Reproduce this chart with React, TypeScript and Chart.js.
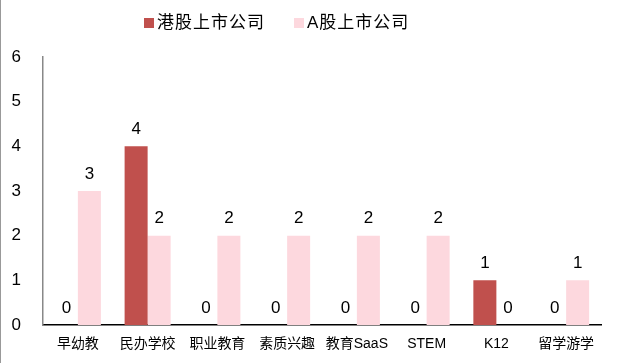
import React, { useEffect, useRef } from "react";
import { Chart, registerables } from "chart.js";

Chart.register(...registerables);

const categories = ["早幼教", "民办学校", "职业教育", "素质兴趣", "教育SaaS", "STEM", "K12", "留学游学"];
const hkListed = [0, 4, 0, 0, 0, 0, 1, 0];
const aListed = [3, 2, 2, 2, 2, 2, 0, 1];
const yTicks = [0, 1, 2, 3, 4, 5, 6];

const HK_COLOR = "#C0504D";
const A_COLOR = "#FDD8DE";

const valueLabels = {
  id: "valueLabels",
  afterDatasetsDraw(chart: any) {
    const ctx = chart.ctx;
    ctx.save();
    ctx.font = '17px "Liberation Sans", Arial, sans-serif';
    ctx.fillStyle = "#000";
    ctx.textAlign = "center";
    ctx.textBaseline = "middle";
    chart.data.datasets.forEach((ds: any, di: number) => {
      const meta = chart.getDatasetMeta(di);
      meta.data.forEach((el: any, i: number) => {
        ctx.fillText(String(ds.data[i]), el.x, el.y - 17);
      });
    });
    ctx.restore();
  },
};

const customLegend = {
  id: "customLegend",
  afterDraw(chart: any) {
    const ctx = chart.ctx;
    ctx.save();
    ctx.font = '17px "Liberation Sans", "Noto Sans CJK SC", sans-serif';
    try {
      (ctx as any).letterSpacing = "1px";
    } catch (e) {}
    ctx.textBaseline = "middle";
    ctx.textAlign = "left";
    const starts = [143, 293];
    chart.data.datasets.forEach((ds: any, di: number) => {
      const x = starts[di];
      const y = 23;
      ctx.fillStyle = ds.backgroundColor;
      ctx.fillRect(x, y - 5, 10, 10);
      ctx.fillStyle = "#000";
      ctx.fillText(ds.label, x + 13, y);
    });
    ctx.restore();
  },
};

export default function App() {
  const ref = useRef<HTMLCanvasElement>(null);
  useEffect(() => {
    if (!ref.current) return;
    const chart = new Chart(ref.current, {
      type: "bar",
      data: {
        labels: categories,
        datasets: [
          { label: "港股上市公司", data: hkListed, backgroundColor: HK_COLOR },
          { label: "A股上市公司", data: aListed, backgroundColor: A_COLOR },
        ],
      },
      options: {
        animation: false,
        responsive: false,
        maintainAspectRatio: false,
        layout: { padding: { left: 0, right: 27, top: 57, bottom: 0 } },
        datasets: { bar: { categoryPercentage: 0.66, barPercentage: 1 } },
        plugins: { legend: { display: false }, tooltip: { enabled: false } },
        scales: {
          x: {
            grid: { display: false, drawTicks: false },
            border: { display: true, color: "#000", width: 1.5 },
            ticks: {
              color: "#000",
              padding: 11,
              maxRotation: 0,
              autoSkip: false,
              font: { family: '"Liberation Sans", "Noto Sans CJK SC", sans-serif', size: 14 },
            },
            afterFit: (s: any) => {
              s.height = 38;
            },
          },
          y: {
            min: 0,
            max: 6,
            afterBuildTicks: (s: any) => {
              s.ticks = yTicks.map((v) => ({ value: v }));
            },
            grid: { display: false, drawTicks: false },
            border: { display: true, color: "#888", width: 1.5 },
            ticks: {
              color: "#000",
              padding: 22,
              font: { family: '"Liberation Sans", Arial, sans-serif', size: 17 },
            },
            afterFit: (s: any) => {
              s.width = 42;
            },
          },
        },
      },
      plugins: [valueLabels, customLegend],
    });
    return () => chart.destroy();
  }, []);
  return (
    <div
      style={{
        position: "fixed",
        left: 0,
        top: 0,
        width: 628,
        height: 363,
        background: "#fff",
        borderLeft: "1px solid #999",
        boxSizing: "border-box",
      }}
    >
      <canvas ref={ref} width={627} height={363} style={{ display: "block" }} />
    </div>
  );
}
